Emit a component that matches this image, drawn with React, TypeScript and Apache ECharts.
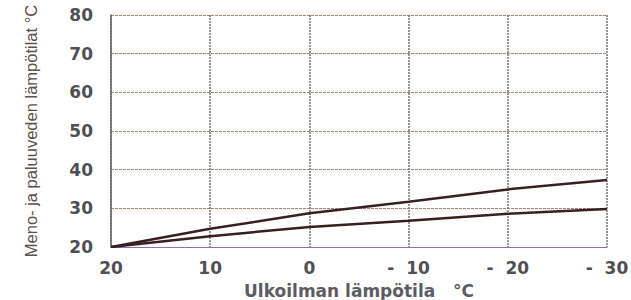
import React, { useEffect, useRef } from "react";
import * as echarts from "echarts";

const outdoorTemps = [20, 10, 0, -10, -20, -30];
const supplyTemps = [20, 24.7, 28.7, 31.7, 34.9, 37.3];
const returnTemps = [20, 22.8, 25.2, 26.8, 28.6, 29.8];
const yTitle = "Meno- ja paluuveden lämpötilat °C";
const xTitle = "Ulkoilman lämpötila   °C";

export default function App() {
  const ref = useRef<HTMLDivElement>(null);
  useEffect(() => {
    document.body.style.margin = "0";
    const chart = echarts.init(ref.current!, null, { renderer: "svg" });
    const lineColor = "#3a1f22";
    const labelFont = {
      fontFamily: "DejaVu Sans, sans-serif",
      fontSize: 17,
      fontWeight: "bold",
      color: "#505054",
    };
    chart.setOption({
      animation: false,
      backgroundColor: "#ffffff",
      grid: { left: 111, right: 24, top: 15, bottom: 53, outerBoundsMode: "none", containLabel: false },
      xAxis: {
        type: "value",
        inverse: true,
        min: -30,
        max: 20,
        interval: 10,
        name: xTitle,
        nameLocation: "middle",
        nameGap: 35,
        nameTextStyle: {
          fontFamily: "DejaVu Sans, sans-serif",
          fontSize: 17,
          fontWeight: "bold",
          color: "#5c5c62",
        },
        axisLine: { show: true, onZero: false, lineStyle: { color: "#8a70c0", width: 1.2 } },
        axisTick: { show: false },
        axisLabel: {
          margin: 12,
          ...labelFont,
          formatter: (v: number) => (v < 0 ? "-  " + Math.abs(v) : String(v)),
        },
        splitLine: {
          show: true,
          lineStyle: { color: "#747474", width: 1.5, type: [2, 1] },
        },
      },
      yAxis: {
        type: "value",
        min: 20,
        max: 80,
        interval: 10,
        name: yTitle,
        nameLocation: "middle",
        nameGap: 72,
        nameTextStyle: {
          fontFamily: "Liberation Sans Narrow, Arial Narrow, sans-serif",
          fontSize: 16.5,
          color: "#5e5048",
        },
        axisLine: { show: true, onZero: false, lineStyle: { color: "#6a6a6a", width: 1.6 } },
        axisTick: { show: false },
        axisLabel: {
          margin: 18,
          ...labelFont,
        },
        splitLine: {
          show: true,
          lineStyle: { color: "#a88078", width: 1, type: [3, 1] },
        },
      },
      series: [
        {
          type: "line",
          data: outdoorTemps.map((x, i) => [x, supplyTemps[i]]),
          showSymbol: false,
          lineStyle: { color: lineColor, width: 2.5 },
        },
        {
          type: "line",
          data: outdoorTemps.map((x, i) => [x, returnTemps[i]]),
          showSymbol: false,
          lineStyle: { color: lineColor, width: 2.5 },
        },
      ],
    });
    return () => chart.dispose();
  }, []);
  return <div ref={ref} style={{ width: 631, height: 300 }} />;
}
